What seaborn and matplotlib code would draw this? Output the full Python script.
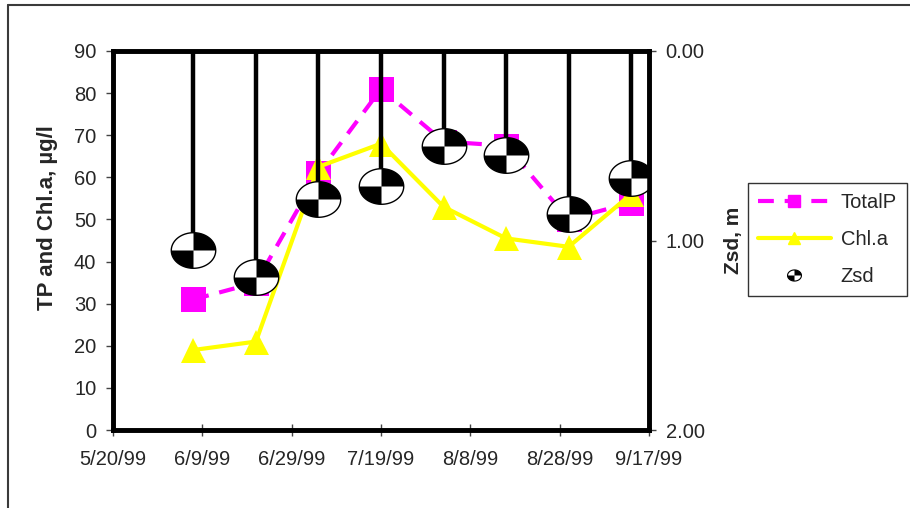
"""
TP, Chl.a and Secchi depth (Zsd), summer 1999
"""

import numpy as np
import pandas as pd
import matplotlib
matplotlib.use('Agg')
import matplotlib.pyplot as plt
import seaborn as sns
from matplotlib.path import Path
from matplotlib.markers import MarkerStyle
from matplotlib.lines import Line2D

# Data
sample_dates = ['1999-06-07', '1999-06-21', '1999-07-05', '1999-07-19',
                '1999-08-02', '1999-08-16', '1999-08-30', '1999-09-13']
total_p = [31, 35, 61, 81, 68.5, 67.5, 50, 54]
chl_a = [19, 21, 62.5, 68, 53, 45.5, 43.5, 56]
zsd = [1.05, 1.19, 0.78, 0.71, 0.50, 0.55, 0.86, 0.67]

tick_dates = ['1999-05-20', '1999-06-09', '1999-06-29', '1999-07-19',
              '1999-08-08', '1999-08-28', '1999-09-17']
tick_labels = ['5/20/99', '6/9/99', '6/29/99', '7/19/99', '8/8/99', '8/28/99', '9/17/99']
left_ticks = [0, 10, 20, 30, 40, 50, 60, 70, 80, 90]
right_ticks = [0.0, 1.0, 2.0]

df = pd.DataFrame({'date': pd.to_datetime(sample_dates),
                   'TotalP': total_p, 'Chl.a': chl_a, 'Zsd': zsd})

sns.set_style('white')
plt.rcParams['font.family'] = ['Liberation Sans', 'DejaVu Sans']

MAGENTA = '#FF00FF'
YELLOW = '#FFFF00'
FS = 14.5

# Secchi-disk style marker: ellipse outline + two black quadrants
def ell_pts(a0, a1, n=40):
    a = np.linspace(a0, a1, n)
    return np.column_stack([np.cos(a), 0.8 * np.sin(a)])

ring = ell_pts(0, 2 * np.pi, 120)
ell_path = Path(np.vstack([ring, ring[:1]]),
                [Path.MOVETO] + [Path.LINETO] * (len(ring) - 1) + [Path.CLOSEPOLY])
verts, codes = [], []
for a0, a1 in [(0, np.pi / 2), (np.pi, 1.5 * np.pi)]:
    arc = ell_pts(a0, a1)
    verts += [(0, 0)] + arc.tolist() + [(0, 0)]
    codes += [Path.MOVETO] + [Path.LINETO] * len(arc) + [Path.CLOSEPOLY]
quad_path = Path(np.array(verts), codes)
ell_marker = MarkerStyle(ell_path)
quad_marker = MarkerStyle(quad_path)

fig = plt.figure(figsize=(9.1, 5.08), dpi=100)
ax = fig.add_axes([113 / 910, 78 / 508, 536 / 910, 379 / 508])

dash = (0, (3.8, 2.6))
sns.lineplot(data=df, x='date', y='TotalP', ax=ax, color=MAGENTA, lw=3,
             linestyle=dash, marker='s', ms=18, mec=MAGENTA, mew=0)
sns.lineplot(data=df, x='date', y='Chl.a', ax=ax, color=YELLOW, lw=3,
             marker='^', ms=18, mec=YELLOW, mew=0)

ax.set_xlim(pd.Timestamp(tick_dates[0]), pd.Timestamp(tick_dates[-1]))
ax.set_ylim(0, 90)
ax.set_xticks(pd.to_datetime(tick_dates))
ax.set_xticklabels(tick_labels, fontsize=FS)
ax.set_yticks(left_ticks)
ax.set_yticklabels([str(v) for v in left_ticks], fontsize=FS)
ax.set_xlabel('')
ax.set_ylabel('TP and Chl.a, µg/l', fontsize=16, fontweight='bold')
ax.yaxis.set_label_coords(-55 / 536, (430 - 218) / 379)
ax.tick_params(axis='y', direction='out', length=5, width=1, color='#444444', pad=7, left=True)
ax.tick_params(axis='x', direction='inout', length=9, width=1, color='#444444', pad=10, bottom=True)

# Zsd on inverted right axis
ax2 = ax.twinx()
zero = np.zeros(len(zsd))
ax2.errorbar(df['date'], df['Zsd'], yerr=[df['Zsd'].values, zero], fmt='none',
             ecolor='black', elinewidth=3.2, capsize=6, capthick=3)
ax2.plot(df['date'], df['Zsd'], ls='none', marker=ell_marker, ms=32,
         mfc='white', mec='black', mew=1)
ax2.plot(df['date'], df['Zsd'], ls='none', marker=quad_marker, ms=32,
         mfc='black', mec='black', mew=0)
ax2.set_ylim(2, 0)
ax2.set_yticks(right_ticks)
ax2.set_yticklabels([f'{v:.2f}' for v in right_ticks], fontsize=FS)
ax2.set_ylabel('Zsd, m', fontsize=15, fontweight='bold', labelpad=14)
ax2.tick_params(axis='y', direction='out', length=5, width=1, color='#444444', pad=7, right=True)

for a in (ax, ax2):
    for s in a.spines.values():
        s.set_linewidth(3.3)
        s.set_color('black')
        s.set_visible(True)

# legend
h_tp = Line2D([], [], color=MAGENTA, lw=3, ls=dash, marker='s', ms=8, mec=MAGENTA)
h_chl = Line2D([], [], color=YELLOW, lw=3, marker='^', ms=8, mec=YELLOW)
h_z1 = Line2D([], [], ls='none', marker=ell_marker, ms=10, mfc='white', mec='black', mew=0.8)
h_z2 = Line2D([], [], ls='none', marker=quad_marker, ms=10, mfc='black', mew=0)
leg = fig.legend([h_tp, h_chl, (h_z1, h_z2)], ['TotalP', 'Chl.a', 'Zsd'],
                 loc='upper left', bbox_to_anchor=(748 / 910, 1 - 183 / 508),
                 bbox_transform=fig.transFigure, borderaxespad=0, fontsize=FS,
                 handlelength=3.6, handletextpad=0.5, labelspacing=0.9,
                 borderpad=0.5, fancybox=False, framealpha=1)
leg.get_frame().set_edgecolor('#333333')
leg.get_frame().set_linewidth(1)

# outer chart-area border (cut off at right and bottom)
fig.add_artist(Line2D([8 / 910, 8 / 910], [0, 1 - 5 / 508], color='#3a3a3a', lw=1.5,
                      transform=fig.transFigure))
fig.add_artist(Line2D([8 / 910, 1], [1 - 5 / 508, 1 - 5 / 508], color='#3a3a3a', lw=1.5,
                      transform=fig.transFigure))

fig.savefig('out.png', dpi=100)
plt.close(fig)
